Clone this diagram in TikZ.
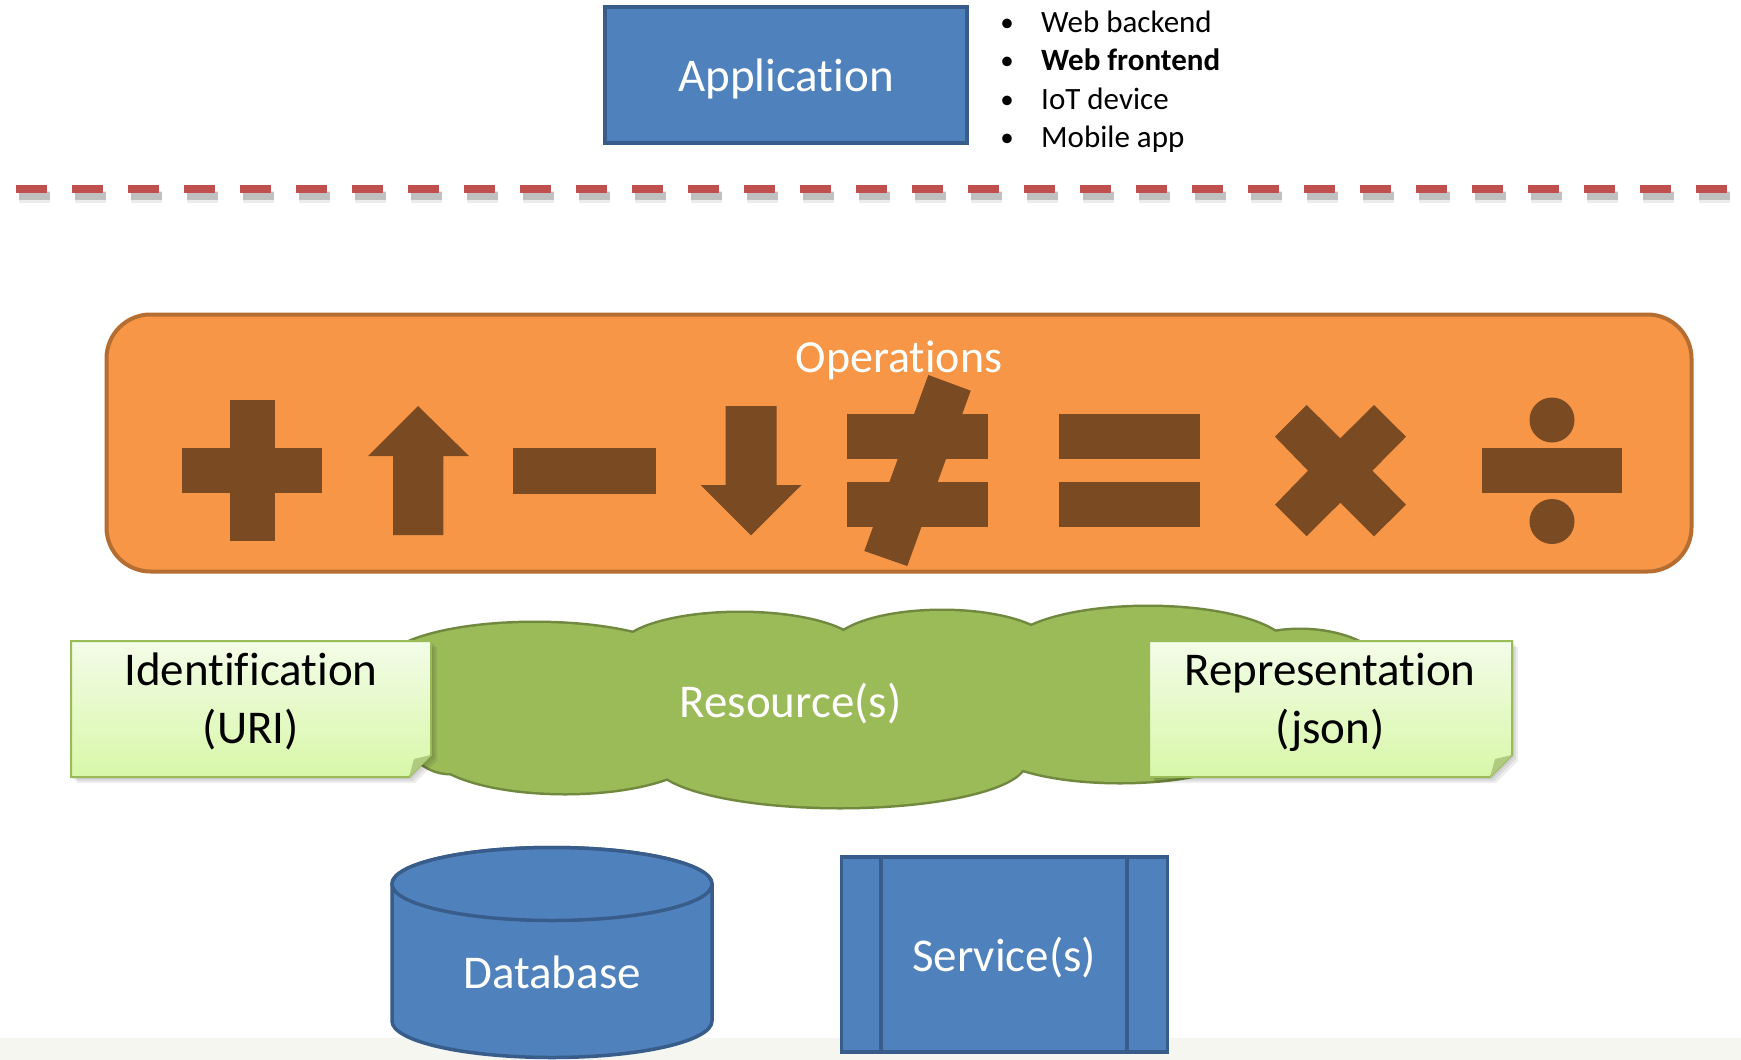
\documentclass[tikz,border=0pt]{standalone}
\usepackage{fontspec}
\setmainfont{Carlito}[Ligatures=NoCommon, RawFeature={-liga;-clig;-dlig;-calt}]
\newcommand\nolig{\kern0pt\relax}
\definecolor{ppblue}{HTML}{4F81BD}
\definecolor{ppblueline}{HTML}{385D8A}
\definecolor{pporange}{HTML}{F79646}
\definecolor{pporangeline}{HTML}{B66D31}
\definecolor{symbrown}{HTML}{7A4B23}
\definecolor{cloudgreen}{HTML}{9BBB59}
\definecolor{cloudline}{HTML}{71893F}
\definecolor{notetop}{HTML}{F3FCE8}
\definecolor{notebot}{HTML}{D8F7A8}
\definecolor{noteline}{HTML}{9BBB59}
\definecolor{notefold}{HTML}{AFCB80}
\definecolor{dashred}{HTML}{C0504D}
\definecolor{stripcol}{HTML}{F5F6EF}
\begin{document}
\begin{tikzpicture}[x=1pt,y=-1pt,
  bluebox/.style={fill=ppblue, draw=ppblueline, line width=3.5pt},
  symb/.style={fill=symbrown},
  lobe/.style={fill=cloudgreen, draw=cloudline, line width=5pt},
  lobefill/.style={fill=cloudgreen},
  notebox/.style={top color=notetop, bottom color=notebot, draw=noteline, line width=2pt},
  noteshadow/.style={fill=black, opacity=0.07},
  biglbl/.style={font=\fontsize{47}{56}\selectfont, inner sep=0pt},
  whitelbl/.style={biglbl, text=white},
  bullettext/.style={font=\fontsize{31}{38}\selectfont, inner sep=0pt, anchor=base west},
  bulletdot/.style={font=\fontsize{27}{38}\selectfont, inner sep=0pt, anchor=base},
  redline/.style={draw=dashred, line width=8pt, dash pattern=on 31pt off 25pt},
  shadowline/.style={draw=black, line width=#1, dash pattern=on 31pt off 25pt}
]
\useasboundingbox (0,0) rectangle (1741,1060);
\fill[white] (0,0) rectangle (1741,1060);
% bottom strip
\fill[stripcol] (0,1038) rectangle (1741,1060);

% ---------- Application ----------
\node[bluebox, minimum width=362, minimum height=136, inner sep=0pt] (app) at (786,75) {};
\node[whitelbl, anchor=base] (applbl) at (786,91) {Applicat\nolig ion};

% bullets
\node[bulletdot] (d1) at (1007,31) {•};
\node[bullettext] (t1) at (1041,32) {Web backend};
\node[bulletdot] (d2) at (1007,69.5) {•};
\node[bullettext] (t2) at (1041,70.5) {\bfseries Web frontend};
\node[bulletdot] (d3) at (1007,108) {•};
\node[bullettext] (t3) at (1041,109) {IoT device};
\node[bulletdot] (d4) at (1007,146) {•};
\node[bullettext] (t4) at (1041,147) {Mobile app};

% ---------- dashed separator ----------
\coordinate (sepL) at (15.5,189);
\coordinate (sepR) at (1760,189);
\draw[shadowline=12pt, opacity=0.08] ([shift={(3,8)}]sepL) -- ([shift={(3,8)}]sepR);
\draw[shadowline=8pt, opacity=0.18] ([shift={(3,7)}]sepL) -- ([shift={(3,7)}]sepR);
\draw[redline] (sepL) -- (sepR);

% ---------- Operations ----------
\node[fill=pporange, draw=pporangeline, line width=4pt, rounded corners=44pt,
      minimum width=1585, minimum height=257, inner sep=0pt] (ops) at (899,443) {};
\node[whitelbl, anchor=base, font=\fontsize{46}{55}\selectfont] (opslbl) at (899,372.5) {Operat\nolig ions};

% plus
\fill[symb] (229.6,400) rectangle (274.5,541);
\fill[symb] (181.6,448) rectangle (322.4,493);
% up arrow
\fill[symb] (418,406) -- (469,456) -- (443.4,456) -- (443.4,535) -- (393,535) -- (393,456) -- (368,456) -- cycle;
% minus
\fill[symb] (513.3,448) rectangle (655.6,493.7);
% down arrow
\fill[symb] (725.5,406) -- (776.5,406) -- (776.5,485) -- (801.5,485) -- (751,535.3) -- (700.5,485) -- (725.5,485) -- cycle;
% not equal
\fill[symb] (847,414) rectangle (987.7,459);
\fill[symb] (847,482) rectangle (987.7,527);
\fill[symb] (928.3,375) -- (970.7,390.7) -- (907.3,566) -- (864.3,551) -- cycle;
% equals
\fill[symb] (1058.7,414) rectangle (1199.5,459);
\fill[symb] (1058.7,482) rectangle (1199.5,527);
% times
\fill[symb] (1275,436.7) -- (1306.6,405) -- (1340.3,438.3) -- (1374,405) -- (1406,436.7)
  -- (1372.4,470.7) -- (1406,504.7) -- (1374,536.3) -- (1340.3,502.7) -- (1306.6,536.3)
  -- (1275,504.7) -- (1308,470.7) -- cycle;
% divide
\fill[symb] (1481.6,448) rectangle (1622.4,493);
\fill[symb] (1552,420) circle[radius=22.5pt];
\fill[symb] (1552,521.5) circle[radius=22.5pt];

% ---------- Cloud ----------
\foreach \cx/\cy/\rx/\ry in {450/705/55/68, 535/665/150/42, 740/650/120/37, 942/648/110/37,
   1148/650/140/43, 1300/680/90/50, 565/750/135/43, 840/762/185/45, 1120/745/130/37}
  \path[lobe] (\cx,\cy) ellipse[x radius=\rx pt, y radius=\ry pt];
\foreach \cx/\cy/\rx/\ry in {450/705/55/68, 535/665/150/42, 740/650/120/37, 942/648/110/37,
   1148/650/140/43, 1300/680/90/50, 565/750/135/43, 840/762/185/45, 1120/745/130/37}
  \path[lobefill] (\cx,\cy) ellipse[x radius=\rx pt, y radius=\ry pt];
\fill[cloudgreen] (445,650) rectangle (1300,760);
\node[whitelbl, anchor=base] (res) at (790.5,717) {Resource(s)};

% ---------- Notes ----------
% shadows
\foreach \s in {2,4,6}{
  \fill[noteshadow] ([shift={(\s,\s)}]71,641) -- ([shift={(\s,\s)}]431,641) -- ([shift={(\s,\s)}]431,755)
     -- ([shift={(\s,\s)}]409,777) -- ([shift={(\s,\s)}]71,777) -- cycle;
  \fill[noteshadow] ([shift={(\s,\s)}]1149,641) -- ([shift={(\s,\s)}]1512,641) -- ([shift={(\s,\s)}]1512,755)
     -- ([shift={(\s,\s)}]1490,777) -- ([shift={(\s,\s)}]1149,777) -- cycle;
}
% identification
\path[notebox] (71,641) -- (431,641) -- (431,755) -- (409,777) -- (71,777) -- cycle;
\fill[notefold] (431,755) -- (409,777) -- (414,759) -- cycle;
\node[biglbl, anchor=base] (idl1) at (251,685.5) {Ident\nolig if\nolig icat\nolig ion};
\node[biglbl, anchor=base] (idl2) at (251,743) {(URI)};
% representation
\path[notebox] (1149,641) -- (1512,641) -- (1512,755) -- (1490,777) -- (1149,777) -- cycle;
\fill[notefold] (1512,755) -- (1490,777) -- (1495,759) -- cycle;
\node[biglbl, anchor=base] (rep1) at (1330,685.5) {Representat\nolig ion};
\node[biglbl, anchor=base] (rep2) at (1330,743) {(json)};

% ---------- Database ----------
\path[bluebox] (392,884) -- (392,1021) arc[start angle=180, end angle=360, x radius=160pt, y radius=36.5pt]
   -- (712,884) arc[start angle=0, end angle=180, x radius=160pt, y radius=36.5pt] -- cycle;
\path[bluebox] (552,884) ellipse[x radius=160pt, y radius=36.5pt];
\node[whitelbl, anchor=base] (db) at (552,988.5) {Database};

% ---------- Service ----------
\node[bluebox, minimum width=326, minimum height=195, inner sep=0pt] (svc) at (1004.5,954.5) {};
\draw[draw=ppblueline, line width=3.5pt] (svc.north west -| 881,0) -- (svc.south west -| 881,0);
\draw[draw=ppblueline, line width=3.5pt] (svc.north east -| 1127,0) -- (svc.south east -| 1127,0);
\node[whitelbl, anchor=base] (svclbl) at (1004,971) {Service(s)};
\end{tikzpicture}
\end{document}
